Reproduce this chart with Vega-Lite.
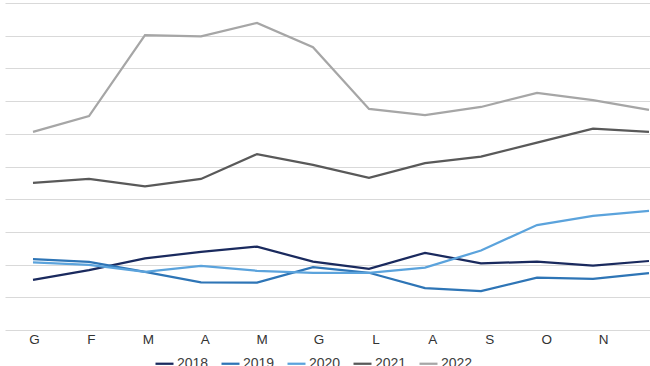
{
  "$schema": "https://vega.github.io/schema/vega-lite/v6.json",
  "autosize": {"type": "none"},
  "padding": {"left": 5, "top": 3, "right": 0, "bottom": 36},
  "width": 672,
  "height": 327,
  "background": "white",
  "config": {"view": {"stroke": null}, "font": "Liberation Sans"},
  "data": {"values": [
    {"anno": "2018", "mese": "Gen", "v": 15.3}, {"anno": "2018", "mese": "Feb", "v": 18.3}, {"anno": "2018", "mese": "Mar", "v": 21.9}, {"anno": "2018", "mese": "Apr", "v": 23.9}, {"anno": "2018", "mese": "Mag", "v": 25.5}, {"anno": "2018", "mese": "Giu", "v": 20.9}, {"anno": "2018", "mese": "Lug", "v": 18.7}, {"anno": "2018", "mese": "Ago", "v": 23.6}, {"anno": "2018", "mese": "Set", "v": 20.4}, {"anno": "2018", "mese": "Ott", "v": 20.9}, {"anno": "2018", "mese": "Nov", "v": 19.7}, {"anno": "2018", "mese": "Dic", "v": 21.1},
    {"anno": "2019", "mese": "Gen", "v": 21.7}, {"anno": "2019", "mese": "Feb", "v": 20.8}, {"anno": "2019", "mese": "Mar", "v": 17.8}, {"anno": "2019", "mese": "Apr", "v": 14.6}, {"anno": "2019", "mese": "Mag", "v": 14.5}, {"anno": "2019", "mese": "Giu", "v": 19.2}, {"anno": "2019", "mese": "Lug", "v": 17.5}, {"anno": "2019", "mese": "Ago", "v": 12.8}, {"anno": "2019", "mese": "Set", "v": 11.9}, {"anno": "2019", "mese": "Ott", "v": 16.0}, {"anno": "2019", "mese": "Nov", "v": 15.6}, {"anno": "2019", "mese": "Dic", "v": 17.4},
    {"anno": "2020", "mese": "Gen", "v": 20.7}, {"anno": "2020", "mese": "Feb", "v": 19.9}, {"anno": "2020", "mese": "Mar", "v": 17.8}, {"anno": "2020", "mese": "Apr", "v": 19.6}, {"anno": "2020", "mese": "Mag", "v": 18.1}, {"anno": "2020", "mese": "Giu", "v": 17.5}, {"anno": "2020", "mese": "Lug", "v": 17.5}, {"anno": "2020", "mese": "Ago", "v": 19.1}, {"anno": "2020", "mese": "Set", "v": 24.3}, {"anno": "2020", "mese": "Ott", "v": 32.1}, {"anno": "2020", "mese": "Nov", "v": 34.9}, {"anno": "2020", "mese": "Dic", "v": 36.4},
    {"anno": "2021", "mese": "Gen", "v": 45.0}, {"anno": "2021", "mese": "Feb", "v": 46.2}, {"anno": "2021", "mese": "Mar", "v": 43.9}, {"anno": "2021", "mese": "Apr", "v": 46.2}, {"anno": "2021", "mese": "Mag", "v": 53.8}, {"anno": "2021", "mese": "Giu", "v": 50.5}, {"anno": "2021", "mese": "Lug", "v": 46.5}, {"anno": "2021", "mese": "Ago", "v": 51.0}, {"anno": "2021", "mese": "Set", "v": 53.0}, {"anno": "2021", "mese": "Ott", "v": 57.3}, {"anno": "2021", "mese": "Nov", "v": 61.6}, {"anno": "2021", "mese": "Dic", "v": 60.6},
    {"anno": "2022", "mese": "Gen", "v": 60.6}, {"anno": "2022", "mese": "Feb", "v": 65.4}, {"anno": "2022", "mese": "Mar", "v": 90.2}, {"anno": "2022", "mese": "Apr", "v": 89.8}, {"anno": "2022", "mese": "Mag", "v": 93.9}, {"anno": "2022", "mese": "Giu", "v": 86.5}, {"anno": "2022", "mese": "Lug", "v": 67.6}, {"anno": "2022", "mese": "Ago", "v": 65.7}, {"anno": "2022", "mese": "Set", "v": 68.2}, {"anno": "2022", "mese": "Ott", "v": 72.5}, {"anno": "2022", "mese": "Nov", "v": 70.3}, {"anno": "2022", "mese": "Dic", "v": 67.3}
  ]},
  "encoding": {
    "y": {
      "field": "v", "type": "quantitative",
      "scale": {"domain": [0, 100]},
      "axis": {"title": null, "labels": false, "ticks": false, "domain": false, "values": [0, 10, 20, 30, 40, 50, 60, 70, 80, 90, 100], "gridColor": "#d9d9d9", "gridWidth": 1}
    }
  },
  "layer": [
    {
      "mark": {"type": "line", "strokeWidth": 2.25},
      "encoding": {
        "x": {"field": "mese", "type": "ordinal", "sort": null, "scale": {"type": "point", "padding": 0.5}, "axis": null},
        "color": {
          "field": "anno", "type": "nominal",
          "scale": {"domain": ["2018", "2019", "2020", "2021", "2022"], "range": ["#1a2a5e", "#2e75b6", "#5ba3dc", "#595959", "#a6a6a6"]},
          "legend": {"orient": "none", "legendX": 149, "legendY": 350, "direction": "horizontal", "title": null, "symbolType": "stroke", "symbolStrokeWidth": 2.25, "symbolSize": 324, "labelFontSize": 14, "labelColor": "#404040", "labelOffset": 2, "columnPadding": 8}
        }
      }
    },
    {
      "mark": {"type": "point", "opacity": 0},
      "encoding": {
        "x": {
          "field": "mese", "type": "ordinal", "sort": null,
          "scale": {"type": "point", "padding": 0, "range": [29, 655]},
          "axis": {"title": null, "labelAngle": 0, "domain": false, "ticks": false, "grid": false, "labelFontSize": 13.5, "labelColor": "#333333", "labelPadding": 2, "labelExpr": "substring(datum.label, 0, 1)"}
        }
      }
    }
  ],
  "resolve": {"scale": {"x": "independent"}}
}
